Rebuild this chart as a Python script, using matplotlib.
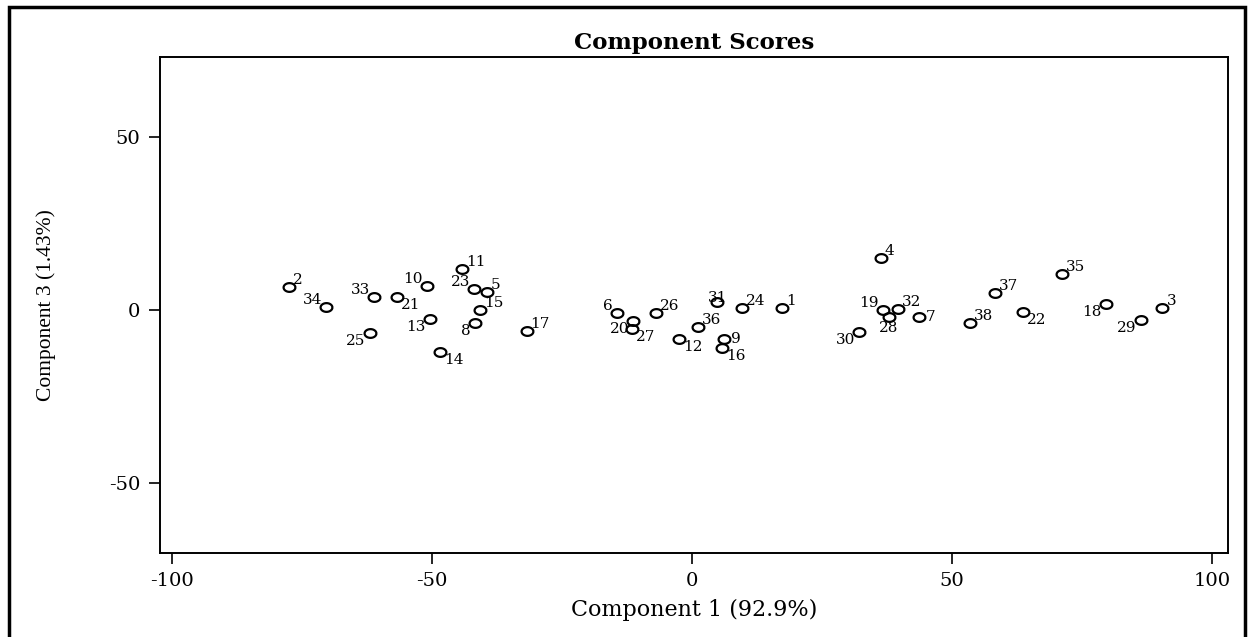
import numpy as np
import matplotlib
matplotlib.use('Agg')
import matplotlib.pyplot as plt
from matplotlib.path import Path
from matplotlib.patches import Rectangle

# component scores (component 1, component 3)
ids = list(range(1, 39))
comp1 = [17.3, -77.5, 90.5, 36.3, -39.4, -14.4, 43.7, -41.7, 6.2, -51.0,
         -44.2, -2.4, -50.4, -48.5, -40.8, 5.8, -31.8, 79.6, 36.7, -11.3,
         -56.7, 63.7, -41.9, 9.6, -62.0, -6.9, -11.5, 37.9, 86.3, 32.1,
         4.9, 39.7, -61.2, -70.3, 71.1, 1.2, 58.3, 53.5]
comp3 = [0.6, 6.6, 0.7, 14.9, 5.2, -0.8, -2.1, -3.7, -8.4, 6.9,
         11.8, -8.5, -2.6, -12.0, 0.0, -11.0, -6.0, 1.7, 0.0, -3.1,
         3.7, -0.5, 6.1, 0.7, -6.7, -1.0, -5.6, -1.9, -2.9, -6.4,
         2.4, 0.3, 3.8, 0.9, 10.3, -5.0, 4.8, -3.8]
xticks = [-100, -50, 0, 50, 100]
yticks = [-50, 0, 50]

# where each point label sits relative to its marker
label_side = ['ur', 'ur', 'ur', 'ur', 'ur', 'ul', 'r', 'll', 'r', 'ul',
              'ur', 'lr', 'll', 'lr', 'ur', 'lr', 'ur', 'll', 'ul', 'll',
              'lr', 'lr', 'ul', 'ur', 'll', 'ur', 'lr', 'b', 'll', 'll',
              't', 'ur', 'ul', 'ul', 'ur', 'ur', 'ur', 'ur']

side_fmt = {
    'ur': (4, 0, 'left', 'bottom'),
    'ul': (-4, 0, 'right', 'bottom'),
    'lr': (4, -1, 'left', 'top'),
    'll': (-4, -1, 'right', 'top'),
    'r': (7, 0, 'left', 'center'),
    'l': (-7, 0, 'right', 'center'),
    't': (0, -3, 'center', 'bottom'),
    'b': (0, -4, 'center', 'top'),
}

plt.rcParams['font.family'] = ['DejaVu Serif']
plt.rcParams['axes.unicode_minus'] = False

fig = plt.figure(figsize=(12.53, 6.37), dpi=100)
ax = fig.add_axes([0.1277, 0.132, 0.8523, 0.7785])

# slightly flattened open circle, like the stretched original
t = np.linspace(0, 2 * np.pi, 60)
oval = Path(np.column_stack([np.cos(t), 0.74 * np.sin(t)]))

ax.plot(comp1, comp3, linestyle='none', marker=oval, ms=8.5,
        mfc='none', mec='black', mew=1.6)

for i, x, y, s in zip(ids, comp1, comp3, label_side):
    dx, dy, ha, va = side_fmt[s]
    ax.annotate(str(i), (x, y), xytext=(dx, dy), textcoords='offset pixels',
                ha=ha, va=va, fontsize=11)

ax.set_xlim(-102.3, 103.1)
ax.set_ylim(-70.2, 73.1)
ax.set_xticks(xticks)
ax.set_yticks(yticks)
ax.tick_params(direction='out', length=8, width=1.2, labelsize=14, pad=6)
for sp in ax.spines.values():
    sp.set_linewidth(1.4)

ax.set_xlabel('Component 1 (92.9%)', fontsize=16, labelpad=6)
ax.set_ylabel('Component 3 (1.43%)', fontsize=15.5, labelpad=38,
              family=['Liberation Serif', 'DejaVu Serif'])
ax.set_title('Component Scores', fontsize=16.5, fontweight='bold', pad=6)

# outer frame round the whole chart
fig.patches.append(Rectangle((0.007, -0.01), 0.987, 0.999, transform=fig.transFigure,
                             fill=False, edgecolor='black', linewidth=2.5))

fig.savefig('out.png', dpi=100)
